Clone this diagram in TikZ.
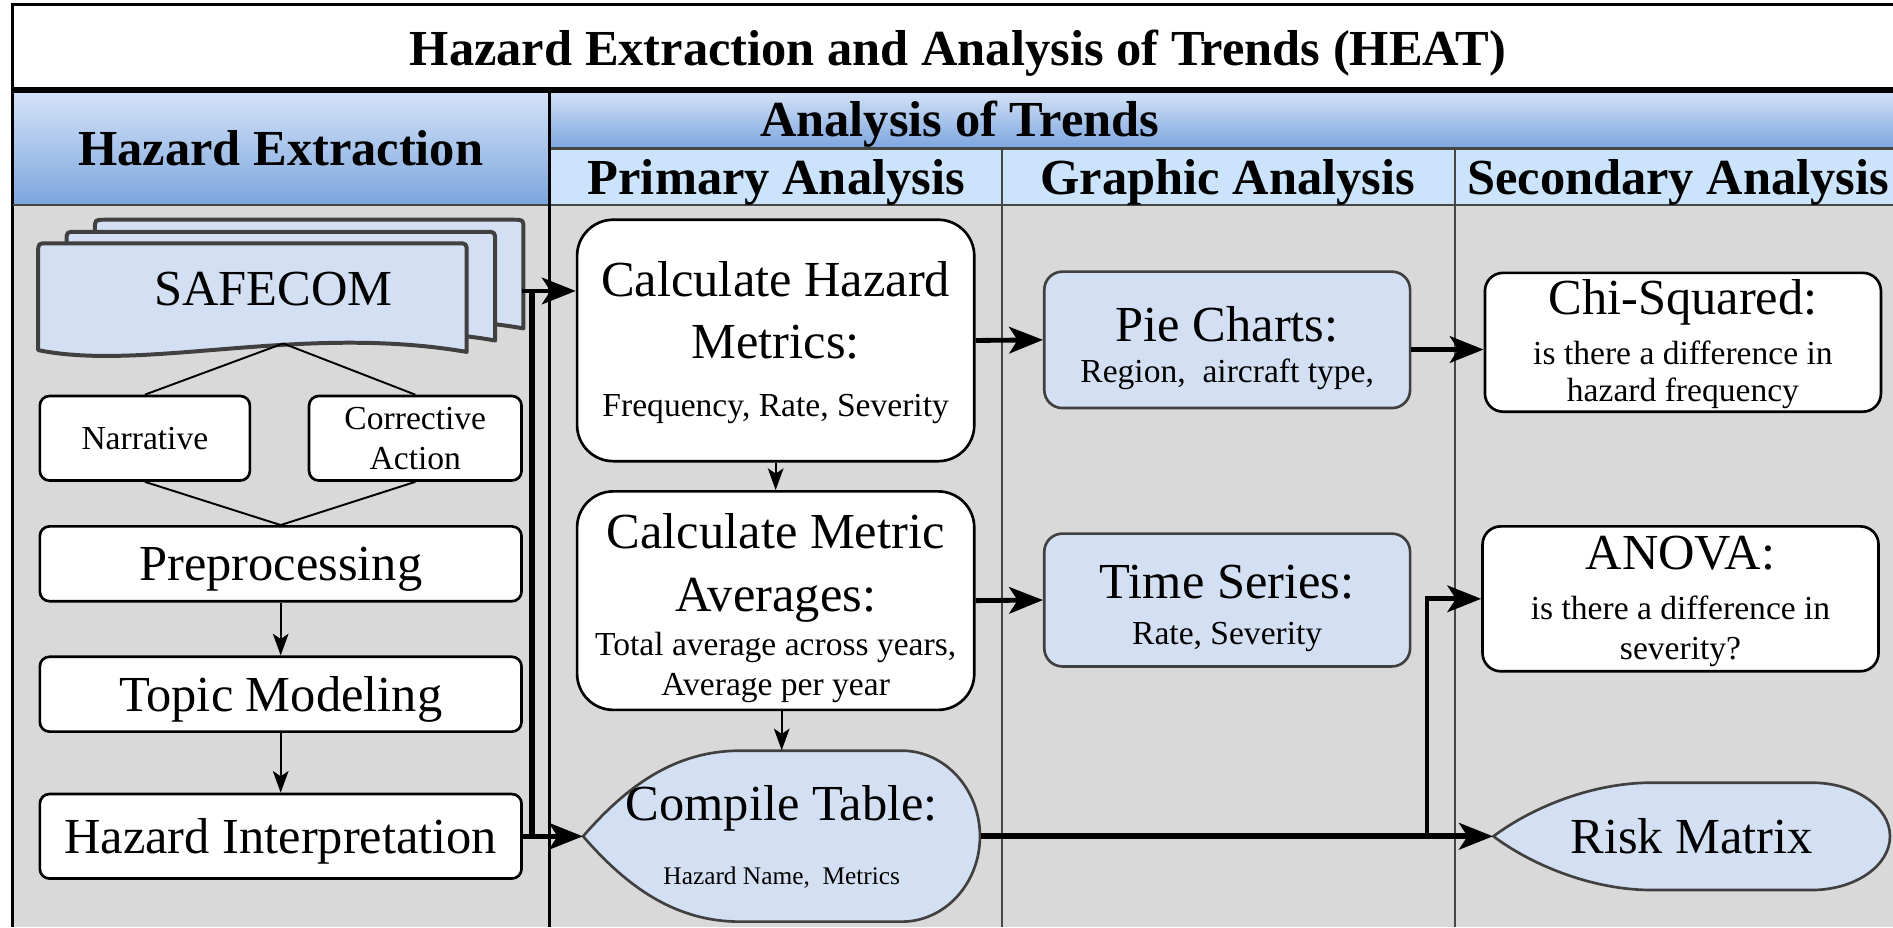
\documentclass[tikz,border=0pt]{standalone}
\usepackage{fontspec}
\setmainfont{Liberation Serif}
\usetikzlibrary{arrows.meta,calc}
\definecolor{lanegrey}{RGB}{217,217,217}
\definecolor{hdtop}{RGB}{214,228,248}
\definecolor{hdbot}{RGB}{124,165,222}
\definecolor{subhd}{RGB}{204,228,251}
\definecolor{nodeblue}{RGB}{211,223,242}
\definecolor{edgegrey}{RGB}{64,64,64}
\definecolor{divgrey}{RGB}{70,70,70}
\newcommand\hbig{\fontsize{20.9pt}{26pt}\selectfont}
\newcommand\hsmall{\fontsize{13.9pt}{16.5pt}\selectfont}
\newcommand\htiny{\fontsize{10.5pt}{12.6pt}\selectfont}
\newcommand\topstrut[1]{\rule{0pt}{#1}}
\begin{document}
\begin{tikzpicture}[x=0.5pt,y=-0.5pt,
  wbox/.style={draw=black,line width=1.1pt,fill=white,rounded corners=4pt,inner sep=0pt,align=center},
  calcbox/.style={wbox,rounded corners=15pt,font=\hbig},
  sbox/.style={wbox,rounded corners=7.5pt,font=\hbig},
  bbox/.style={draw=edgegrey,line width=1.1pt,fill=nodeblue,rounded corners=7.5pt,inner sep=0pt,align=center,font=\hbig},
  bigarrow/.style={line width=2pt,-{Stealth[length=14pt,width=11pt,inset=3.5pt]}},
  thinarrow/.style={line width=0.8pt,-{Stealth[length=9pt,width=6.5pt,inset=2.2pt]}},
  thinline/.style={line width=0.8pt},
  hdtext/.style={font=\hbig\bfseries,anchor=base,inner sep=0pt},
  docshape/.style={draw=edgegrey,line width=1.65pt,fill=nodeblue,line join=round},
  dispshape/.style={draw=edgegrey,line width=1.1pt,fill=nodeblue},
]
\useasboundingbox (0,0) rectangle (1568,768);
\clip (0,0) rectangle (1568,768);
% backgrounds
\fill[white] (0,0) rectangle (1568,768);
\fill[lanegrey] (10.5,170) rectangle (1568,768);
\shade[top color=hdtop,bottom color=hdbot] (10.5,74.5) rectangle (455,170);
\shade[top color=hdtop,bottom color=hdbot] (455,74.5) rectangle (1568,123);
\fill[subhd] (455,123) rectangle (1568,170);
% frame lines
\draw[line width=1.3pt] (10.5,768) -- (10.5,4) -- (1568,4);
\draw[line width=2.3pt] (10.5,74.5) -- (1568,74.5);
\draw[divgrey,line width=1pt] (10.5,170) -- (1568,170);
\draw[divgrey,line width=1pt] (455,123) -- (1568,123);
\draw[line width=1pt] (455,74.5) -- (455,768);
\draw[divgrey,line width=0.8pt] (830,123) -- (830,768);
\draw[divgrey,line width=0.8pt] (1205,123) -- (1205,768);
% header texts
\node[hdtext] (title) at (793.5,54) {Hazard Extraction and Analysis of Trends (HEAT)};
\node[hdtext] (hhe) at (232.5,136.7) {Hazard Extraction};
\node[hdtext] (hat) at (795,113) {Analysis of Trends};
\node[hdtext] (hpa) at (643,161) {Primary Analysis};
\node[hdtext] (hga) at (1017,161) {Graphic Analysis};
\node[hdtext] (hsa) at (1390,161) {Secondary Analysis};
% SAFECOM multi-document
\foreach \dx/\dy in {47/-19.5,23.5/-9.5,0/0}{
  \draw[docshape,shift={(\dx,\dy)}] (31.6,290) -- (31.6,209.5) .. controls (31.6,201.5) .. (39.6,201.5)
    -- (378.6,201.5) .. controls (386.6,201.5) .. (386.6,209.5) -- (386.6,291.5)
    .. controls (250,268) and (120,308) .. (31.6,290) -- cycle;
}
\node[font=\hbig,inner sep=0pt] (safe) at (226.4,239.5) {SAFECOM};
\coordinate (safeB) at (234.6,284.5);
\coordinate (safeR) at (432,241);
% left lane boxes
\node[wbox,font=\hsmall,minimum width=87pt,minimum height=35pt] (narr) at (120,363) {Narrative};
\node[wbox,font=\hsmall,minimum width=88pt,minimum height=35pt] (corr) at (344,363) {Corrective\\Action};
\node[wbox,font=\hbig,text depth=0pt,minimum width=199.5pt,minimum height=31pt] (prep) at (232.5,467) {Preprocessing};
\node[wbox,font=\hbig,text depth=0pt,minimum width=199.5pt,minimum height=31pt] (topic) at (232.5,575) {Topic Modeling};
\node[wbox,font=\hbig,text depth=0pt,minimum width=199.5pt,minimum height=35pt] (hint) at (232.5,692.7) {Hazard Interpretation};
% primary analysis
\node[calcbox,minimum width=164.5pt,minimum height=100pt] (calc) at (642.5,282)
  {\topstrut{16.3pt}Calculate Hazard\\Metrics:\\[-2pt]{\hsmall Frequency, Rate, Severity}};
\node[calcbox,minimum width=164.5pt,minimum height=90.5pt] (avg) at (642.5,497.5)
  {\topstrut{20.8pt}Calculate Metric\\Averages:\\[-7.5pt]{\hsmall Total average across years,}\\[-9.5pt]{\hsmall Average per year}};
\draw[dispshape] (483,692.7) .. controls (520,650) and (560,621.8) .. (613,621.8) -- (747,621.8)
  .. controls (782.7,621.8) and (811.7,653.7) .. (811.7,692.7)
  .. controls (811.7,731.7) and (782.7,763.4) .. (747,763.4) -- (613,763.4)
  .. controls (560,763.4) and (520,735.4) .. (483,692.7) -- cycle;
\node[inner sep=0pt,minimum width=164.35pt,minimum height=70.8pt,align=center,font=\hbig] (comp) at (647.5,692.7)
  {\topstrut{15pt}Compile Table:\\[0.5pt]{\htiny Hazard Name,\ \ Metrics}};
% graphic analysis
\node[bbox,minimum width=151.5pt,minimum height=56.5pt] (pie) at (1016.5,281.5)
  {\topstrut{21.3pt}Pie Charts:\\[-9pt]{\hsmall Region,\ \ aircraft type,}};
\node[bbox,minimum width=151.5pt,minimum height=55pt] (tser) at (1016.5,497)
  {\topstrut{20.7pt}Time Series:\\[-7pt]{\hsmall Rate, Severity}};
% secondary analysis
\node[sbox,minimum width=164pt,minimum height=57.5pt] (chi) at (1394,283.5)
  {\topstrut{16.3pt}Chi-Squared:\\[-5.5pt]{\hsmall is there a difference in}\\[-10.5pt]{\hsmall hazard frequency}};
\node[sbox,minimum width=164pt,minimum height=60pt] (anova) at (1392,496)
  {\topstrut{16.1pt}ANOVA:\\[-5.5pt]{\hsmall is there a difference in}\\[-9.5pt]{\hsmall severity?}};
\draw[dispshape] (1237,692.7) .. controls (1270,668) and (1320,648.3) .. (1368,648.3) -- (1500.6,648.3)
  .. controls (1536.5,648.3) and (1565.5,668.2) .. (1565.5,692.7)
  .. controls (1565.5,717.2) and (1536.5,737.2) .. (1500.6,737.2) -- (1368,737.2)
  .. controls (1320,737.2) and (1270,717.4) .. (1237,692.7) -- cycle;
\node[inner sep=0pt,minimum width=164.25pt,minimum height=44.45pt,font=\hbig] (risk) at (1401.25,692.7) {Risk Matrix};
% connectors, left lane
\draw[thinline] (safeB) -- (narr.north);
\draw[thinline] (safeB) -- (corr.north);
\draw[thinline] (narr.south) -- (prep.north);
\draw[thinline] (corr.south) -- (prep.north);
\draw[thinarrow] (prep.south) -- (topic.north);
\draw[thinarrow] (topic.south) -- (hint.north);
% connectors to primary
\coordinate (busT) at (440.5,241);
\coordinate (busB) at (440.5,692.7);
\draw[line width=1.2pt] ([xshift=-0.55pt]busT) -- ([xshift=-0.55pt]busB);
\draw[line width=1.2pt] ([xshift=0.55pt]busT) -- ([xshift=0.55pt]busB);
\draw[bigarrow] (safeR) -- (safeR -| calc.west);
\draw[bigarrow] (hint.east) -- (comp.west);
\draw[thinarrow] (calc.south) -- (avg.north);
\draw[thinarrow] (avg.south -| comp.north) -- (comp.north);
% connectors to graphic / secondary
\draw[bigarrow] (calc.east) -- (pie.west);
\draw[bigarrow] (avg.east) -- (tser.west);
\draw[bigarrow] ([yshift=-4pt]pie.east) -- ([yshift=-4pt]pie.east -| chi.west);
\draw[bigarrow,line width=2.4pt] (comp.east) -- (risk.west);
\coordinate (br) at (1182,692.7);
\draw[bigarrow] (br) |- (anova.west);
\end{tikzpicture}
\end{document}
